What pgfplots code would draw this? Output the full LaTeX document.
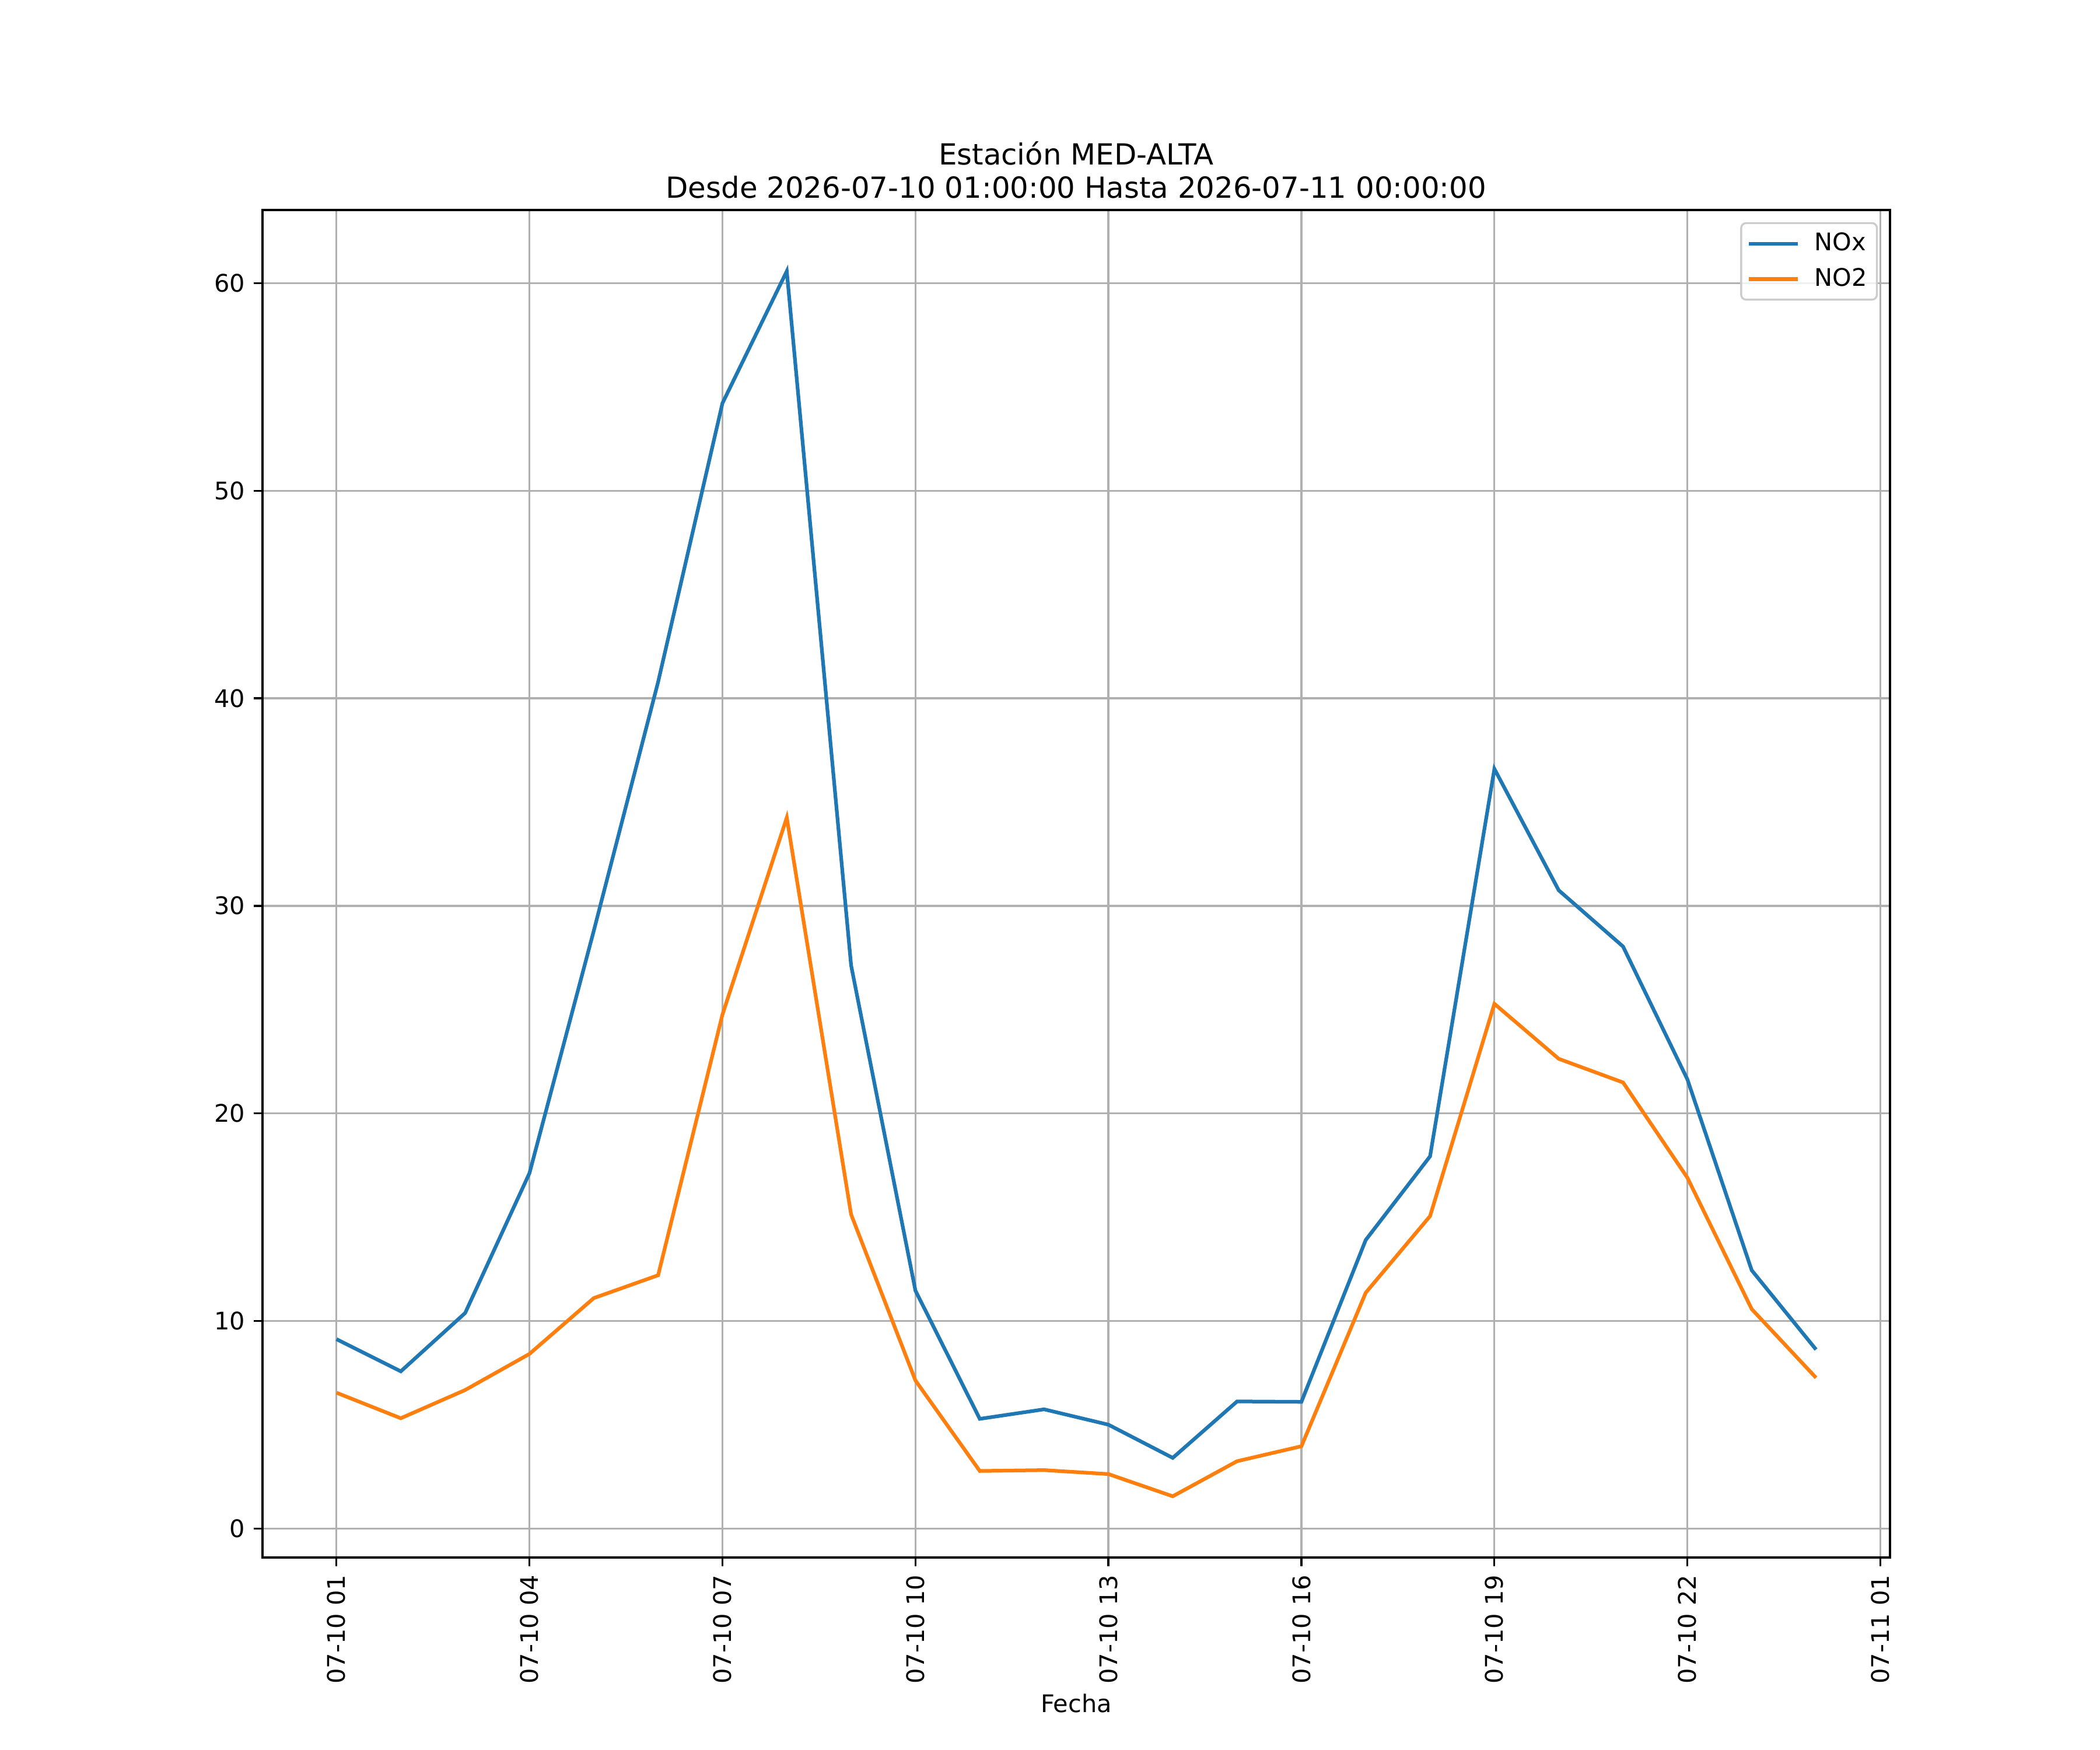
\documentclass[border=0pt]{standalone}
\usepackage{fontspec}
\setmainfont{DejaVu Sans}
\usepackage{pgfplots}
\pgfplotsset{compat=1.18}
\definecolor{tabblue}{HTML}{1F77B4}
\definecolor{taborange}{HTML}{FF7F0E}
\definecolor{gridgray}{HTML}{B0B0B0}
\begin{document}
\begin{tikzpicture}
\useasboundingbox (0,0) rectangle (12in,10in);
\begin{axis}[
  at={(1.5in,1.1in)}, anchor=south west,
  scale only axis, width=9.3in, height=7.7in,
  xmin=-0.15, xmax=25.15, ymin=-1.40, ymax=63.53,
  axis line style={line width=0.8bp, black},
  grid=major,
  major grid style={line width=0.8bp, gridgray},
  tick align=outside, tick pos=left,
  major tick length=3.5bp,
  every tick/.style={line width=0.8bp, black},
  xtick={1,4,7,10,13,16,19,22,25},
  xticklabels={07-10 01,07-10 04,07-10 07,07-10 10,07-10 13,07-10 16,07-10 19,07-10 22,07-11 01},
  ytick={0,10,20,30,40,50,60},
  /pgf/number format/assume math mode=true,
  ticklabel style={font=\fontsize{10}{12}\selectfont},
  xticklabel style={yshift=-3.5bp, rotate=90, anchor=east, inner sep=0pt},
  yticklabel style={anchor=east, inner sep=0pt, xshift=-3.5bp},
  xlabel={Fecha},
  xlabel style={font=\fontsize{10}{12}\selectfont, inner sep=0pt, yshift=-4bp},
  title={Estación MED-ALTA\\Desde 2026-07-10 01:00:00 Hasta 2026-07-11 00:00:00},
  title style={font=\fontsize{12}{13.8}\selectfont, align=center, inner sep=0pt, yshift=-1.5bp},
  legend style={at={(1,1)}, anchor=north east, xshift=-5bp, yshift=-5bp,
    draw=black!20, line width=0.8bp, rounded corners=2bp, fill=white, fill opacity=0.8, text opacity=1,
    font=\fontsize{10}{12}\selectfont, inner xsep=2.5bp, inner ysep=2.5bp, row sep=2.7bp,
    nodes={inner sep=1.5bp}},
  legend cell align=left,
  legend image code/.code={\draw[#1, line width=1.5bp] (0bp,0bp) -- (20bp,0bp); \path (24.7bp,0bp);},
]
\addplot[tabblue, line width=1.5bp] coordinates {
(1,9.12) (2,7.57) (3,10.38) (4,17.12) (5,28.8) (6,40.79) (7,54.22) (8,60.58)
(9,27.13) (10,11.46) (11,5.28) (12,5.74) (13,5.0) (14,3.40) (15,6.12) (16,6.10)
(17,13.9) (18,17.93) (19,36.6) (20,30.75) (21,28.04) (22,21.64) (23,12.44) (24,8.62)
};
\addlegendentry{NOx}
\addplot[taborange, line width=1.5bp] coordinates {
(1,6.54) (2,5.31) (3,6.67) (4,8.41) (5,11.1) (6,12.2) (7,24.76) (8,34.25)
(9,15.13) (10,7.13) (11,2.77) (12,2.81) (13,2.62) (14,1.55) (15,3.24) (16,3.96)
(17,11.36) (18,15.05) (19,25.28) (20,22.63) (21,21.49) (22,16.9) (23,10.57) (24,7.26)
};
\addlegendentry{NO2}
\end{axis}
\end{tikzpicture}
\end{document}
